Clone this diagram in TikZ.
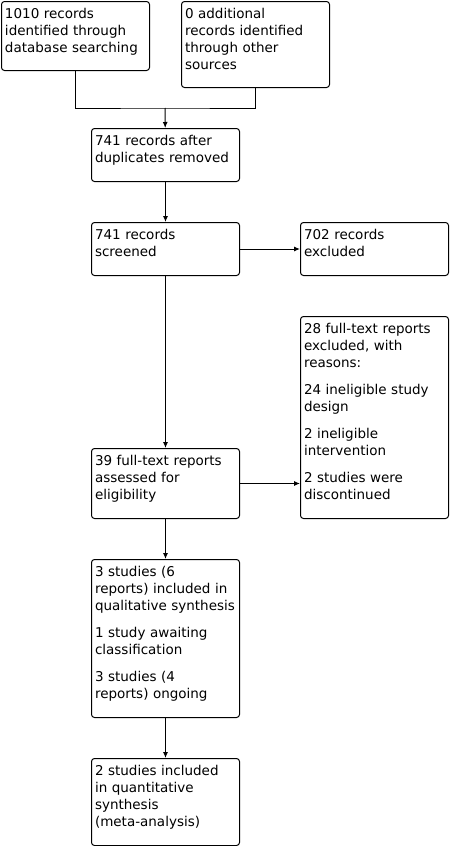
\documentclass[tikz,border=0pt]{standalone}
\usepackage{fontspec}
\setmainfont{DejaVu Sans}
\usetikzlibrary{arrows.meta}
\hyphenpenalty=10000

\begin{document}
\begin{tikzpicture}[x=1pt, y=-1pt, line width=1pt,
    box/.style={draw, rounded corners=3pt, anchor=north west, inner xsep=3.5pt,
    inner ysep=0pt, text width=141pt, align=left, text height=16.5pt,
    font=\fontsize{13.5}{17}\selectfont}, >={Latex[length=6pt,width=5pt]}]

  \useasboundingbox (0,0) rectangle (452,846);

  \node[box,text depth=52.5pt] (A) at (1,1) {1010 records\\ identified through\\ database searching};
  \node[box,text depth=69.5pt] (B) at (181,1) {0 additional\\ records identified\\ through other\\ sources};
  \node[box,text depth=36.5pt] (C) at (91,128) {741 records after\\ duplicates removed};
  \node[box,text depth=36.5pt] (D) at (91,222) {741 records\\ screened};
  \node[box,text depth=36.5pt] (E) at (300,222) {702 records\\ excluded};
  \node[box,text depth=185.5pt] (F) at (300,316) {28 full-text reports\\ excluded, with\\ reasons:\\[10pt]
    24 ineligible study\\ design\\[10pt] 2 ineligible\\ intervention\\[10pt] 2 studies were\\ discontinued};
  \node[box,text depth=53.5pt] (G) at (91,448) {39 full-text reports\\ assessed for\\ eligibility};
  \node[box,text depth=141.5pt] (H) at (91,559) {3 studies (6\\ reports) included in\\ qualitative synthesis\\[10pt]
    1 study awaiting\\ classification\\[10pt] 3 studies (4\\ reports) ongoing};
  \node[box,text depth=70.5pt] (I) at (91,758) {2 studies included\\ in quantitative\\ synthesis\\ (meta-analysis)};

  \coordinate (J) at (165,108);
  \draw (A.south) |- (J) -| (B.south);
  \draw[->] (J) -- (C);
  \draw[->] (C) -- (D);
  \draw[->] (D) -- (E);
  \draw[->] (D) -- (G);
  \draw[->] (G.east) -- (G.east -| F.west);
  \draw[->] (G) -- (H);
  \draw[->] (H) -- (I);
\end{tikzpicture}
\end{document}
